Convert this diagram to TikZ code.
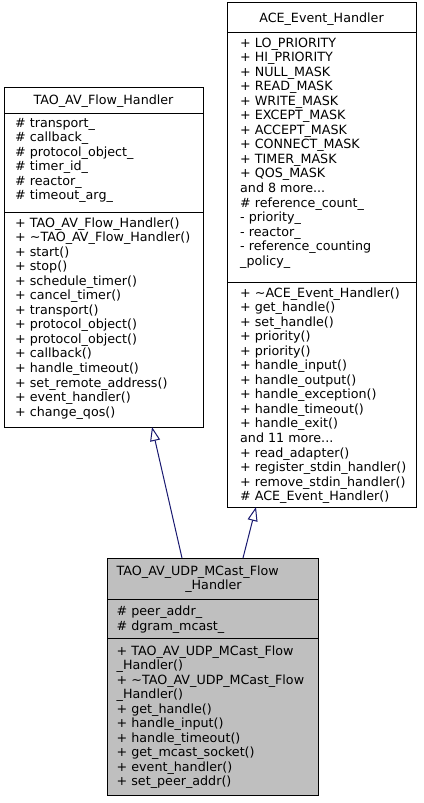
\documentclass[tikz,border=0pt]{standalone}
\usepackage{fontspec}
\setmainfont{DejaVu Sans}
\usetikzlibrary{arrows.meta,calc}
\definecolor{edgeblue}{HTML}{191970}
\definecolor{boxgray}{HTML}{BFBFBF}
\newcommand\clsline[5]{\node[txt,anchor=base west] (#1) at (#2,{#3+#4*14.55}) {#5};}
\begin{document}
\begin{tikzpicture}[x=1pt,y=-1pt,
  sect/.style={draw=black, line width=1pt, anchor=north west, inner sep=0pt, outer sep=0pt},
  txt/.style={inner sep=0pt, font=\fontsize{12.7}{14.55}\selectfont},
  inh/.style={draw=edgeblue, line width=1pt, -{Triangle[open, length=14pt, width=10pt, line width=1pt]}}]
\useasboundingbox (0,0) rectangle (423,803);

% ---------- TAO_AV_Flow_Handler ----------
\node[sect, fill=white, minimum width=199pt, minimum height=26pt] (lf-t) at (4,87) {};
\node[sect, fill=white, minimum width=199pt, minimum height=99pt] (lf-a) at (4,113) {};
\node[sect, fill=white, minimum width=199pt, minimum height=215pt] (lf-m) at (4,212) {};
\node[txt, anchor=base] (lf-title) at (103.5,104) {TAO\_AV\_Flow\_Handler};
\clsline{lf-a0}{15}{127}{0}{\# transport\_}
\clsline{lf-a1}{15}{127}{1}{\# callback\_}
\clsline{lf-a2}{15}{127}{2}{\# protocol\_object\_}
\clsline{lf-a3}{15}{127}{3}{\# timer\_id\_}
\clsline{lf-a4}{15}{127}{4}{\# reactor\_}
\clsline{lf-a5}{15}{127}{5}{\# timeout\_arg\_}
\clsline{lf-m0}{15}{227}{0}{+ TAO\_AV\_Flow\_Handler()}
\clsline{lf-m1}{15}{227}{1}{+ \textasciitilde TAO\_AV\_Flow\_Handler()}
\clsline{lf-m2}{15}{227}{2}{+ start()}
\clsline{lf-m3}{15}{227}{3}{+ stop()}
\clsline{lf-m4}{15}{227}{4}{+ schedule\_timer()}
\clsline{lf-m5}{15}{227}{5}{+ cancel\_timer()}
\clsline{lf-m6}{15}{227}{6}{+ transport()}
\clsline{lf-m7}{15}{227}{7}{+ protocol\_object()}
\clsline{lf-m8}{15}{227}{8}{+ protocol\_object()}
\clsline{lf-m9}{15}{227}{9}{+ callback()}
\clsline{lf-m10}{15}{227}{10}{+ handle\_timeout()}
\clsline{lf-m11}{15}{227}{11}{+ set\_remote\_address()}
\clsline{lf-m12}{15}{227}{12}{+ event\_handler()}
\clsline{lf-m13}{15}{227}{13}{+ change\_qos()}

% ---------- ACE_Event_Handler ----------
\node[sect, fill=white, minimum width=189pt, minimum height=30pt] (ae-t) at (227,2) {};
\node[sect, fill=white, minimum width=189pt, minimum height=250pt] (ae-a) at (227,32) {};
\node[sect, fill=white, minimum width=189pt, minimum height=225pt] (ae-m) at (227,282) {};
\node[txt, anchor=base] (ae-title) at (321.5,22) {ACE\_Event\_Handler};
\clsline{ae-a0}{240}{47}{0}{+ LO\_PRIORITY}
\clsline{ae-a1}{240}{47}{1}{+ HI\_PRIORITY}
\clsline{ae-a2}{240}{47}{2}{+ NULL\_MASK}
\clsline{ae-a3}{240}{47}{3}{+ READ\_MASK}
\clsline{ae-a4}{240}{47}{4}{+ WRITE\_MASK}
\clsline{ae-a5}{240}{47}{5}{+ EXCEPT\_MASK}
\clsline{ae-a6}{240}{47}{6}{+ ACCEPT\_MASK}
\clsline{ae-a7}{240}{47}{7}{+ CONNECT\_MASK}
\clsline{ae-a8}{240}{47}{8}{+ TIMER\_MASK}
\clsline{ae-a9}{240}{47}{9}{+ QOS\_MASK}
\clsline{ae-a10}{240}{47}{10}{and 8 more...}
\clsline{ae-a11}{240}{47}{11}{\# reference\_count\_}
\clsline{ae-a12}{240}{47}{12}{- priority\_}
\clsline{ae-a13}{240}{47}{13}{- reactor\_}
\clsline{ae-a14}{240}{47}{14}{- reference\_counting}
\clsline{ae-a15}{240}{47}{15}{\_policy\_}
\clsline{ae-m0}{240}{297}{0}{+ \textasciitilde ACE\_Event\_Handler()}
\clsline{ae-m1}{240}{297}{1}{+ get\_handle()}
\clsline{ae-m2}{240}{297}{2}{+ set\_handle()}
\clsline{ae-m3}{240}{297}{3}{+ priority()}
\clsline{ae-m4}{240}{297}{4}{+ priority()}
\clsline{ae-m5}{240}{297}{5}{+ handle\_input()}
\clsline{ae-m6}{240}{297}{6}{+ handle\_output()}
\clsline{ae-m7}{240}{297}{7}{+ handle\_exception()}
\clsline{ae-m8}{240}{297}{8}{+ handle\_timeout()}
\clsline{ae-m9}{240}{297}{9}{+ handle\_exit()}
\clsline{ae-m10}{240}{297}{10}{and 11 more...}
\clsline{ae-m11}{240}{297}{11}{+ read\_adapter()}
\clsline{ae-m12}{240}{297}{12}{+ register\_stdin\_handler()}
\clsline{ae-m13}{240}{297}{13}{+ remove\_stdin\_handler()}
\clsline{ae-m14}{240}{297}{14}{\# ACE\_Event\_Handler()}

% ---------- TAO_AV_UDP_MCast_Flow_Handler ----------
\node[sect, fill=boxgray, minimum width=211pt, minimum height=41pt] (bt-t) at (107,558) {};
\node[sect, fill=boxgray, minimum width=211pt, minimum height=39pt] (bt-a) at (107,599) {};
\node[sect, fill=boxgray, minimum width=211pt, minimum height=157pt] (bt-m) at (107,638) {};
\node[txt, anchor=base west] (bt-title1) at (116.5,575) {TAO\_AV\_UDP\_MCast\_Flow};
\node[txt, anchor=base] (bt-title2) at (213.5,589) {\_Handler};
\clsline{bt-a0}{116.5}{615.5}{0}{\# peer\_addr\_}
\clsline{bt-a1}{116.5}{615.5}{1}{\# dgram\_mcast\_}
\clsline{bt-m0}{116.5}{655}{0}{+ TAO\_AV\_UDP\_MCast\_Flow}
\clsline{bt-m1}{116.5}{655}{1}{\_Handler()}
\clsline{bt-m2}{116.5}{655}{2}{+ \textasciitilde TAO\_AV\_UDP\_MCast\_Flow}
\clsline{bt-m3}{116.5}{655}{3}{\_Handler()}
\clsline{bt-m4}{116.5}{655}{4}{+ get\_handle()}
\clsline{bt-m5}{116.5}{655}{5}{+ handle\_input()}
\clsline{bt-m6}{116.5}{655}{6}{+ handle\_timeout()}
\clsline{bt-m7}{116.5}{655}{7}{+ get\_mcast\_socket()}
\clsline{bt-m8}{116.5}{655}{8}{+ event\_handler()}
\clsline{bt-m9}{116.5}{655}{9}{+ set\_peer\_addr()}

% ---------- inheritance ----------
\draw[inh] ($(bt-t.north west)+(75,0)$) -- ($(lf-m.south west)+(148,0)$);
\draw[inh] ($(bt-t.north west)+(136,0)$) -- ($(ae-m.south west)+(29,0)$);
\end{tikzpicture}
\end{document}
